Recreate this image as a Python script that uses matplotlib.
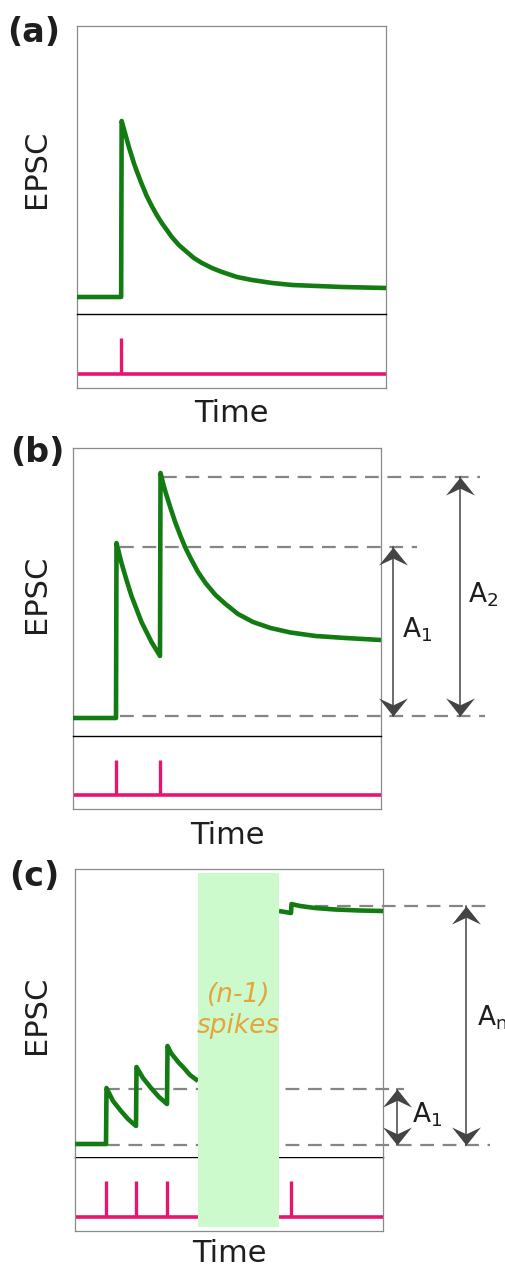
import numpy as np
import matplotlib.pyplot as plt
import matplotlib as mpl
from matplotlib.path import Path
from matplotlib.patches import Rectangle

mpl.rc("font", family="DejaVu Sans")

# ----- data (time in arbitrary units, EPSC in arbitrary units) -----

t_max = 308
epsc_max = 288
spike_max = 74
spike_base = 14
spike_top = 50

# (a) single spike
a_time = [0, 44, 44.5, 47, 49.5, 52, 54.5, 57, 59.5, 64.5, 69.5, 74.5, 79.5, 84.5, 89.5, 94.5, 101.5,
          109.5, 116.5, 124.5, 134.5, 144.5, 159.5, 174.5, 194.5, 214.5, 239.5, 264.5, 308]
a_epsc = [17, 17, 193, 184, 175, 166, 158, 150, 143, 130, 118, 108, 99, 91, 84, 77, 69,
          62, 56, 51, 46, 42, 37, 34, 31, 29, 28, 27, 26]
a_spikes = [44]

# (b) paired pulse
b_time = [0, 43, 43.5, 46, 48.5, 53.5, 58.5, 63.5, 68.5, 73.5, 78.5, 87,
          87.5, 90, 92.5, 95, 97.5, 102.5, 107.5, 112.5, 117.5, 125, 132.5, 142.5, 152.5,
          165, 180, 197.5, 217.5, 242.5, 272.5, 308]
b_epsc = [18, 18, 193, 183, 173, 156, 140, 127, 114, 104, 94, 80,
          263, 253, 244, 236, 228, 213, 200, 188, 178, 164, 153, 141, 132,
          122, 114, 108, 103.5, 100, 98, 96]
b_spikes = [43, 87]
b_base = 20
b_a1 = 189
b_a2 = 259

# (c) train of spikes
c_time_pre = [0, 31, 31.5, 35, 38, 42, 46, 53, 61, 61.5, 65, 68, 72, 76, 84, 92,
              92.5, 96, 100, 104, 108, 115, 123]
c_epsc_pre = [13, 13, 69, 62, 56, 51, 46, 38, 31, 90, 84, 79, 74, 69, 60, 53,
              111, 104, 99, 94, 90, 82, 76]
c_time_post = [204, 216, 216.5, 225, 240, 260, 285, 308]
c_epsc_post = [246, 244, 253, 251, 249, 247.5, 246.5, 246]
c_spikes = [31, 61, 92, 216]
c_gap = [123, 204]
c_base = 12
c_a1 = 68
c_an = 251

# ----- styles -----
W, H = 506, 1269
green = "#127c12"
pink = "#e8156f"
dash_col = "#858585"
arrow_col = "#444444"
frame_col = "#8a8a8a"
band_col = "#ccfacc"
note_col = "#e6a43c"
txt_col = "#1e1e1e"

head_up = Path([(0, 0), (0.8, -1), (0, -0.62), (-0.8, -1), (0, 0)],
               [Path.MOVETO, Path.LINETO, Path.LINETO, Path.LINETO, Path.CLOSEPOLY])
head_down = Path([(0, 0), (0.8, 1), (0, 0.62), (-0.8, 1), (0, 0)],
                 [Path.MOVETO, Path.LINETO, Path.LINETO, Path.LINETO, Path.CLOSEPOLY])


def px_rect(left, top, right, bottom):
    return [left / W, 1 - bottom / H, (right - left) / W, (bottom - top) / H]


def fig_text(x, y, s, **kw):
    fig.text(x / W, 1 - y / H, s, ha="center", va="center", color=txt_col, **kw)


def make_panel(left, top, right, mid, bottom):
    ax = fig.add_axes(px_rect(left, top, right, mid))
    ax2 = fig.add_axes(px_rect(left, mid, right, bottom))
    for a in (ax, ax2):
        a.set_xticks([])
        a.set_yticks([])
        a.set_xlim(0, t_max)
        for sp in a.spines.values():
            sp.set_color(frame_col)
            sp.set_linewidth(0.9)
    ax.set_ylim(0, epsc_max)
    ax2.set_ylim(0, spike_max)
    ax.spines["bottom"].set_visible(False)
    ax2.spines["top"].set_color("black")
    ax2.spines["top"].set_linewidth(1.0)
    return ax, ax2


def hdash(ax, y, x0, x1):
    ax.plot([x0, x1], [y, y], color=dash_col, lw=1.6, dashes=(6.2, 3.9), clip_on=False, zorder=2)


def arrow(ax, x, y0, y1):
    ax.plot([x, x], [y0, y1], color=arrow_col, lw=1.1, clip_on=False, zorder=3)
    ax.plot(x, y1, marker=head_up, ms=26, color=arrow_col, mec="none", clip_on=False, zorder=3)
    ax.plot(x, y0, marker=head_down, ms=26, color=arrow_col, mec="none", clip_on=False, zorder=3)


def amp_label(ax, x, y, s):
    ax.text(x, y, s, fontsize=19, ha="left", va="center", color=txt_col)


def spikes(ax2, times):
    ax2.plot([0, t_max], [spike_base, spike_base], color=pink, lw=2.6, solid_capstyle="butt")
    ax2.vlines(times, spike_base, spike_top, color=pink, lw=2.4)


fig = plt.figure(figsize=(W / 100, H / 100), dpi=100)
lw_g = 3.3

# ----- (a) -----
ax, ax2 = make_panel(77, 26, 386, 314, 388)
ax.plot(a_time, a_epsc, color=green, lw=lw_g, solid_capstyle="butt", zorder=4)
spikes(ax2, a_spikes)
fig_text(34, 33, "(a)", fontsize=24, fontweight="bold")
fig_text(37, 169, "EPSC", fontsize=22, rotation=90)
fig_text(231, 413, "Time", fontsize=22)

# ----- (b) -----
ax, ax2 = make_panel(73, 448, 381, 736, 809)
ax.plot(b_time, b_epsc, color=green, lw=lw_g, solid_capstyle="butt", zorder=4)
spikes(ax2, b_spikes)
hdash(ax, b_base, 47, 412)
hdash(ax, b_a1, 47, 344)
hdash(ax, b_a2, 90, 407)
arrow(ax, 320, b_base, b_a1)
arrow(ax, 387, b_base, b_a2)
amp_label(ax, 329, 106, r"A$_\mathregular{1}$")
amp_label(ax, 395, 141, r"A$_\mathregular{2}$")
fig_text(37, 452, "(b)", fontsize=24, fontweight="bold")
fig_text(37, 594, "EPSC", fontsize=22, rotation=90)
fig_text(227, 836, "Time", fontsize=22)

# ----- (c) -----
ax, ax2 = make_panel(75, 869, 383, 1157, 1231)
ax.set_zorder(2)
ax.plot(c_time_pre, c_epsc_pre, color=green, lw=lw_g, solid_capstyle="butt", zorder=4)
ax.plot(c_time_post, c_epsc_post, color=green, lw=lw_g, solid_capstyle="butt", zorder=4)
spikes(ax2, c_spikes)
hdash(ax, c_base, 31, 415)
hdash(ax, c_a1, 31, 329)
hdash(ax, c_an, 217, 413)
arrow(ax, 322, c_base, c_a1)
arrow(ax, 391, c_base, c_an)
amp_label(ax, 337, 42, r"A$_\mathregular{1}$")
amp_label(ax, 402, 139, r"A$_\mathregular{n}$")
# band hides the (n-1) intermediate spikes, spanning both sub-axes
ax.add_patch(Rectangle((c_gap[0], -70), c_gap[1] - c_gap[0], 354, facecolor=band_col,
                       edgecolor="none", clip_on=False, zorder=5))
ax.text(np.mean(c_gap), 162, "(n-1)", fontsize=19, style="italic", ha="center", va="center",
        color=note_col, zorder=6)
ax.text(np.mean(c_gap), 131, "spikes", fontsize=19, style="italic", ha="center", va="center",
        color=note_col, zorder=6)
fig_text(34, 877, "(c)", fontsize=24, fontweight="bold")
fig_text(37, 1015, "EPSC", fontsize=22, rotation=90)
fig_text(229, 1253, "Time", fontsize=22)

fig.savefig("out.png", dpi=100, facecolor="w")
